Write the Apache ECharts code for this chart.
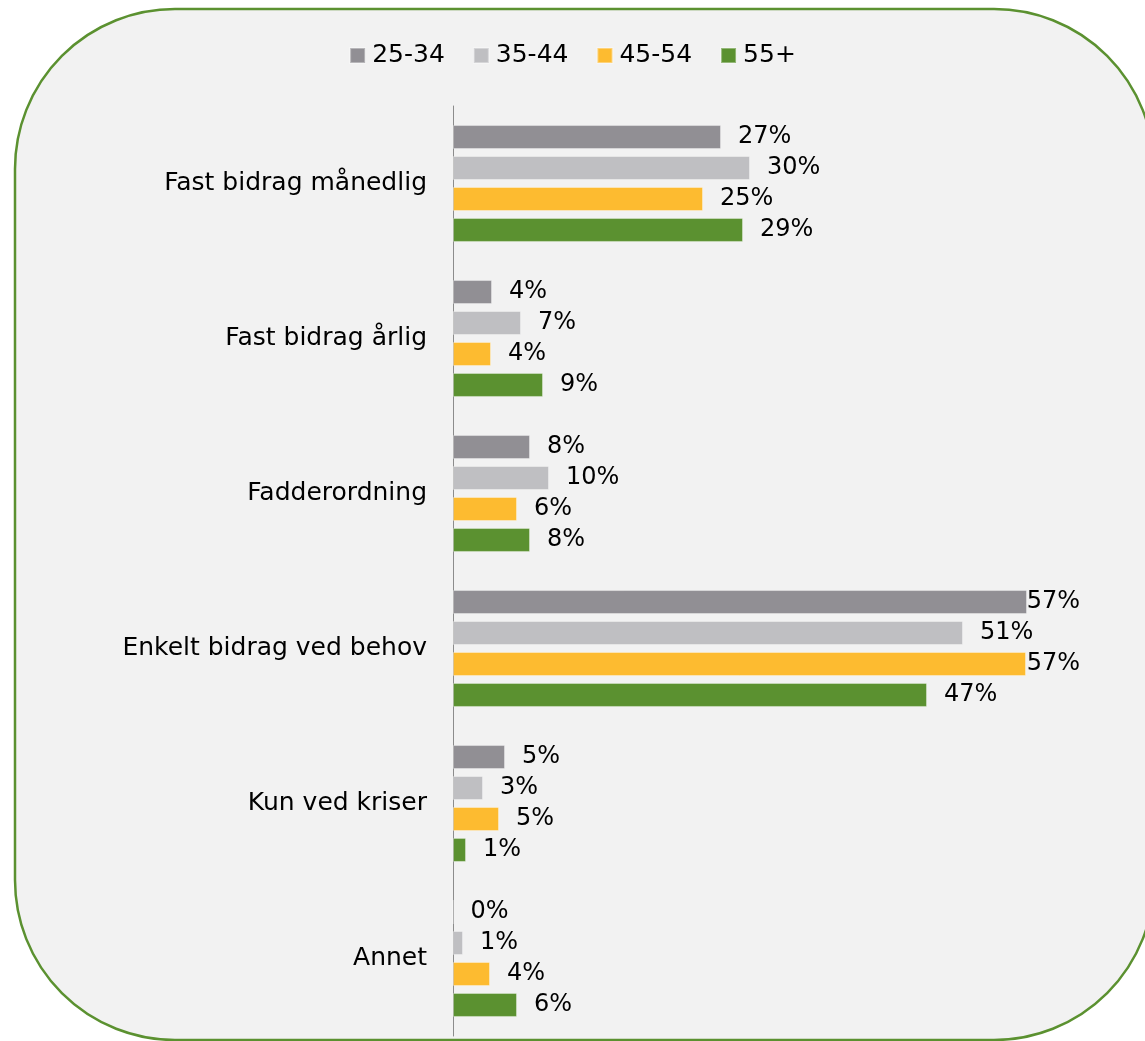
<!DOCTYPE html>
<html>
<head>
<meta charset="utf-8">
<script src="https://cdn.jsdelivr.net/npm/echarts@6/dist/echarts.min.js"></script>
<style>
  html, body { margin: 0; padding: 0; background: #fff; }
  #chart { width: 1145px; height: 1041px; }
</style>
</head>
<body>
<div id="chart"></div>
<script>
var categories = ["Fast bidrag månedlig", "Fast bidrag årlig", "Fadderordning", "Enkelt bidrag ved behov", "Kun ved kriser", "Annet"];
var seriesNames = ["25-34", "35-44", "45-54", "55+"];
var age2534 = [26.8, 3.9, 7.7, 57.4, 5.2, 0];
var age3544 = [29.7, 6.8, 9.6, 51.0, 3.0, 1.0];
var age4554 = [25.0, 3.8, 6.4, 57.3, 4.6, 3.7];
var age55 = [29.0, 9.0, 7.7, 47.4, 1.3, 6.4];
var colors = ["#918f94", "#bfbfc2", "#fdbb30", "#5b9130"];

var font = "'DejaVu Sans', Verdana, sans-serif";
var labelLimit = 1080; // labels pushed back inside plot area, like the original

var chart = echarts.init(document.getElementById("chart"));

function makeSeries(name, data, color) {
  return {
    name: name,
    type: "bar",
    data: data,
    barWidth: 24,
    barGap: "29%",
    itemStyle: { color: color, borderColor: "rgba(255,255,255,0.35)", borderWidth: 1 },
    label: {
      show: true,
      position: "right",
      distance: 17,
      color: "#000",
      fontFamily: font,
      fontSize: 24,
      formatter: function (p) { return Math.round(p.value) + "%"; }
    }
  };
}

var option = {
  animation: false,
  backgroundColor: "#fff",
  color: colors,
  graphic: [
    {
      type: "rect",
      z: -10,
      shape: { x: 15, y: 9, width: 1139, height: 1031, r: 160 },
      style: { fill: "#f2f2f2", stroke: "#5b9130", lineWidth: 2.5 }
    }
  ],
  legend: {
    top: 38,
    left: "center",
    itemWidth: 15,
    itemHeight: 15,
    itemGap: 28,
    icon: "rect",
    textStyle: { fontFamily: font, fontSize: 25, color: "#000", padding: [0, 0, 0, 2] },
    data: seriesNames
  },
  grid: {
    left: 453,
    top: 106,
    width: 600,
    height: 930
  },
  xAxis: {
    type: "value",
    min: 0,
    max: 60,
    show: false
  },
  yAxis: {
    type: "category",
    inverse: true,
    data: categories,
    axisLine: { show: true, lineStyle: { color: "#8c8c8c", width: 1 } },
    axisTick: { show: false },
    axisLabel: { margin: 26, color: "#000", fontFamily: font, fontSize: 25 }
  },
  labelLayout: function (params) {
    var r = params.labelRect;
    if (r.x + r.width > labelLimit) {
      return { dx: labelLimit - (r.x + r.width) };
    }
  },
  series: [
    makeSeries(seriesNames[0], age2534, colors[0]),
    makeSeries(seriesNames[1], age3544, colors[1]),
    makeSeries(seriesNames[2], age4554, colors[2]),
    makeSeries(seriesNames[3], age55, colors[3])
  ]
};

chart.setOption(option);
</script>
</body>
</html>
